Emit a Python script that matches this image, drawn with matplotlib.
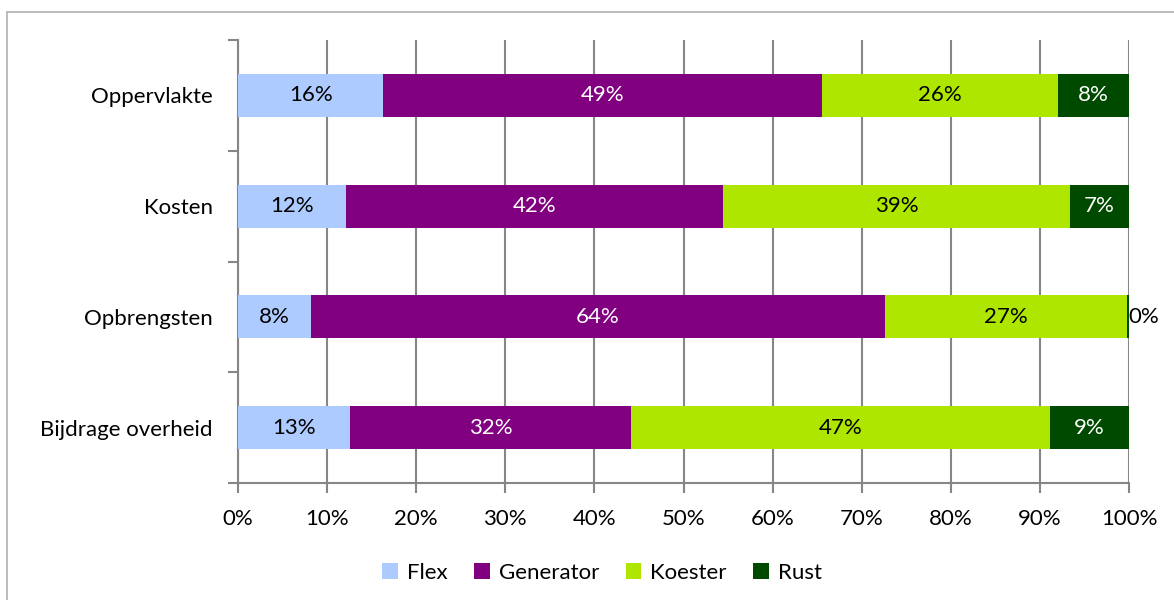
import matplotlib.pyplot as plt
from matplotlib.patches import Rectangle
import numpy as np

plt.rcParams['font.family'] = ['Lato', 'DejaVu Sans']

categories = ['Oppervlakte', 'Kosten', 'Opbrengsten', 'Bijdrage overheid']
series = ['Flex', 'Generator', 'Koester', 'Rust']
flex = [16.3, 12.1, 8.2, 12.6]
generator = [49.2, 42.3, 64.4, 31.5]
koester = [26.5, 39.0, 27.2, 47.0]
rust = [8.0, 6.6, 0.2, 8.9]
colors = ['#ADCBFE', '#800080', '#AEE600', '#004A00']
text_colors = ['black', 'white', 'black', 'white']

values = [flex, generator, koester, rust]

fig = plt.figure(figsize=(11.74, 6), dpi=100)
ax = fig.add_axes([238 / 1174, 1 - 483 / 600, (1129 - 238) / 1174, (483 - 40) / 600])

# chart border
fig.patches.append(Rectangle((7 / 1174, -0.1), 1.2, 1 - 12 / 600 + 0.1, transform=fig.transFigure,
                             fill=False, edgecolor='#B0B0B0', linewidth=1.2))

fs = 16
y = np.arange(len(categories))
left = np.zeros(len(categories))
for name, vals, col, tcol in zip(series, values, colors, text_colors):
    vals = np.array(vals)
    ax.barh(y, vals, left=left, height=0.39, color=col, label=name, zorder=3)
    for yi, l, v in zip(y, left, vals):
        c = tcol if v > 3 else 'black'
        ax.text(l + v / 2 if v > 3 else l + v + 1.7, yi, f'{round(v):.0f}%', ha='center', va='center',
                color=c, fontsize=fs, zorder=4)
    left += vals

ax.set_xlim(0, 100)
ax.set_ylim(3.5, -0.5)
ax.set_xticks(np.arange(0, 101, 10))
ax.set_xticklabels([f'{t}%' for t in range(0, 101, 10)], fontsize=fs)
ax.set_yticks(y)
ax.set_yticklabels(categories, fontsize=fs)
ax.set_yticks(np.arange(-0.5, 3.6, 1), minor=True)
ax.tick_params(axis='y', which='major', length=0, pad=18)
ax.tick_params(axis='y', which='minor', length=7, color='#868686', width=1.5)
ax.tick_params(axis='x', length=7, color='#868686', width=1.5, pad=12)
ax.grid(axis='x', color='#868686', linewidth=1.5, zorder=0)
for s in ['top', 'right']:
    ax.spines[s].set_visible(False)
for s in ['left', 'bottom']:
    ax.spines[s].set_color('#868686')
    ax.spines[s].set_linewidth(1.5)

fig.legend(loc='center', bbox_to_anchor=(602 / 1174, 1 - 573 / 600), ncol=4, frameon=False,
           fontsize=fs, handlelength=0.7, handleheight=0.7, handletextpad=0.4, columnspacing=1.2)

fig.savefig('out.png', dpi=100)
